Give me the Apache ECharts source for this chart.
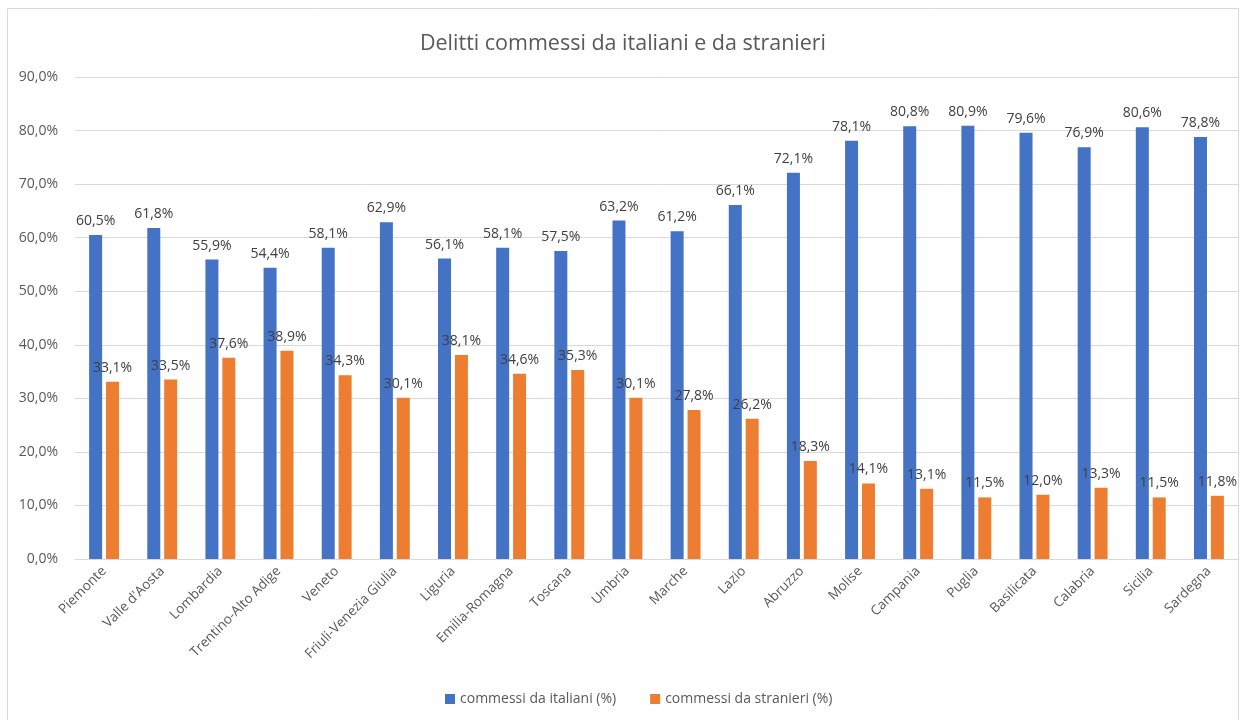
<!DOCTYPE html>
<html>
<head>
<meta charset="utf-8">
<style>
  html, body { margin: 0; padding: 0; background: #ffffff; }
  #chart { width: 1246px; height: 720px; }
</style>
<script src="https://cdn.jsdelivr.net/npm/echarts@6/dist/echarts.min.js"></script>
</head>
<body>
<div id="chart"></div>
<script>
const regioni = ['Piemonte', "Valle d'Aosta", 'Lombardia', 'Trentino-Alto Adige', 'Veneto',
  'Friuli-Venezia Giulia', 'Liguria', 'Emilia-Romagna', 'Toscana', 'Umbria', 'Marche', 'Lazio',
  'Abruzzo', 'Molise', 'Campania', 'Puglia', 'Basilicata', 'Calabria', 'Sicilia', 'Sardegna'];
const italiani = [60.5, 61.8, 55.9, 54.4, 58.1, 62.9, 56.1, 58.1, 57.5, 63.2, 61.2, 66.1,
  72.1, 78.1, 80.8, 80.9, 79.6, 76.9, 80.6, 78.8];
const stranieri = [33.1, 33.5, 37.6, 38.9, 34.3, 30.1, 38.1, 34.6, 35.3, 30.1, 27.8, 26.2,
  18.3, 14.1, 13.1, 11.5, 12.0, 13.3, 11.5, 11.8];
const nomiSerie = ['commessi da italiani (%)', 'commessi da stranieri (%)'];

const FONT = '"Open Sans", "Noto Sans", sans-serif';
const pct = v => v.toFixed(1).replace('.', ',') + '%';

const chart = echarts.init(document.getElementById('chart'));
chart.setOption({
  backgroundColor: '#ffffff',
  animation: false,
  title: {
    text: 'Delitti commessi da italiani e da stranieri',
    left: 'center',
    top: 28,
    textStyle: { fontFamily: FONT, fontSize: 21.5, fontWeight: 'normal', color: '#595959' }
  },
  graphic: [{
    type: 'rect',
    shape: { x: 7.5, y: 8.5, width: 1231, height: 720 },
    style: { fill: 'none', stroke: '#d9d9d9', lineWidth: 1 },
    silent: true
  }],
  legend: {
    bottom: 9,
    left: 440,
    itemWidth: 10,
    itemHeight: 10,
    itemGap: 34,
    icon: 'rect',
    textStyle: { fontFamily: FONT, fontSize: 14, color: '#595959' },
    data: nomiSerie
  },
  grid: { left: 75, right: 8, top: 77, bottom: 161 },
  xAxis: {
    type: 'category',
    data: regioni,
    axisLine: { lineStyle: { color: '#d9d9d9', width: 1 } },
    axisTick: { show: false },
    axisLabel: {
      rotate: 45,
      interval: 0,
      margin: 10,
      fontFamily: FONT,
      fontSize: 13.5,
      color: '#595959'
    }
  },
  yAxis: {
    type: 'value',
    min: 0,
    max: 90,
    interval: 10,
    axisLine: { show: false },
    axisTick: { show: false },
    splitLine: { lineStyle: { color: '#d9d9d9', width: 1 } },
    axisLabel: {
      formatter: v => pct(v),
      margin: 17,
      fontFamily: FONT,
      fontSize: 14,
      color: '#595959'
    }
  },
  series: [
    {
      name: nomiSerie[0],
      type: 'bar',
      data: italiani,
      barWidth: 13,
      barGap: '30%',
      itemStyle: { color: '#4472c4' },
      label: {
        show: true,
        position: 'top',
        distance: 7,
        formatter: p => pct(p.value),
        fontFamily: FONT,
        fontSize: 14,
        color: '#404040'
      }
    },
    {
      name: nomiSerie[1],
      type: 'bar',
      data: stranieri,
      barWidth: 13,
      itemStyle: { color: '#ed7d31' },
      label: {
        show: true,
        position: 'top',
        distance: 7,
        formatter: p => pct(p.value),
        fontFamily: FONT,
        fontSize: 14,
        color: '#404040'
      }
    }
  ]
});
</script>
</body>
</html>
